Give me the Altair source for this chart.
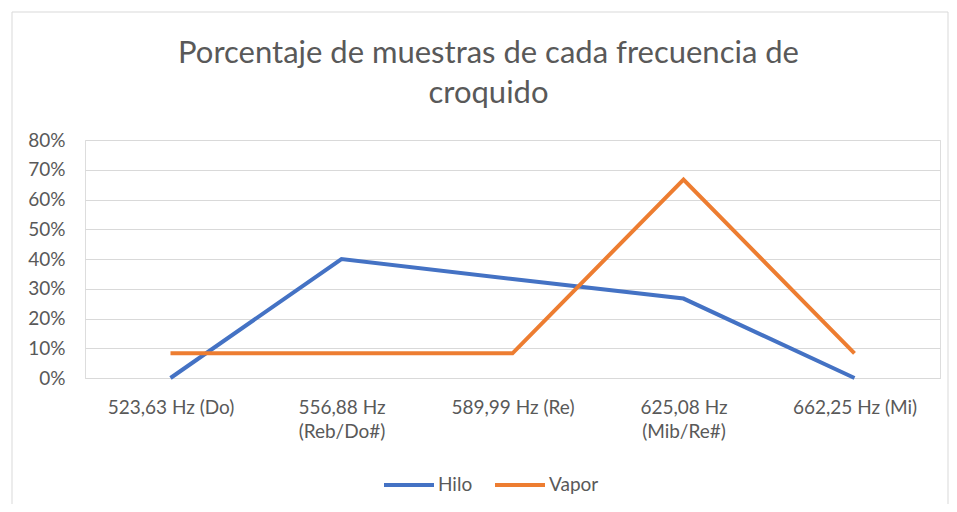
import altair as alt
import pandas as pd

categories = ["523,63 Hz (Do)", "556,88 Hz (Reb/Do#)", "589,99 Hz (Re)", "625,08 Hz (Mib/Re#)", "662,25 Hz (Mi)"]
hilo = [0.0, 0.40, 0.333, 0.267, 0.0]
vapor = [0.083, 0.083, 0.083, 0.667, 0.083]
series = ["Hilo", "Vapor"]
colors = ["#4472C4", "#ED7D31"]
y_ticks = [0, 0.1, 0.2, 0.3, 0.4, 0.5, 0.6, 0.7, 0.8]

rows = []
for c, h, v in zip(categories, hilo, vapor):
    rows.append({"freq": c, "serie": "Hilo", "pct": h})
    rows.append({"freq": c, "serie": "Vapor", "pct": v})
df = pd.DataFrame(rows)

FONT = "Lato"
GREY = "#595959"

lines = alt.Chart(df).mark_line(strokeWidth=4, strokeCap="butt", strokeJoin="miter").encode(
    x=alt.X("freq:N", sort=categories, title=None,
            scale=alt.Scale(type="point", padding=0.5),
            axis=alt.Axis(labelAngle=0, labelFont=FONT, labelFontSize=19, labelColor=GREY,
                          labelPadding=20, ticks=False, domainColor="#D9D9D9", domainWidth=1,
                          labelLineHeight=24,
                          labelExpr="length(datum.label) > 15 ? [slice(datum.label, 0, 9), slice(datum.label, 10)] : datum.label")),
    y=alt.Y("pct:Q", title=None,
            scale=alt.Scale(domain=[0, 0.8], nice=False),
            axis=alt.Axis(values=y_ticks, format=".0%", labelFont=FONT, labelFontSize=19,
                          labelColor=GREY, labelPadding=20, ticks=False, domain=False,
                          gridColor="#D9D9D9", gridWidth=1)),
    color=alt.Color("serie:N", scale=alt.Scale(domain=series, range=colors), title=None,
                    legend=alt.Legend(orient="none", legendX=297, legendY=318, direction="horizontal",
                                      symbolType="stroke", symbolSize=2500, symbolStrokeWidth=4,
                                      labelFont=FONT, labelFontSize=19, labelColor=GREY,
                                      labelOffset=2, columnPadding=14)),
)

border = alt.Chart(pd.DataFrame({"a": [0]})).mark_rect(fill=None, stroke="#D9D9D9", strokeWidth=1).encode(
    x=alt.value(-73), x2=alt.value(863), y=alt.value(-128), y2=alt.value(365)
)

chart = alt.layer(border, lines).properties(
    width=855, height=238,
    padding={"left": 77, "top": 132, "right": 9, "bottom": 126},
    autosize=alt.AutoSizeParams(type="none"),
    title=alt.Title(["Porcentaje de muestras de cada frecuencia de", "croquido"],
                    font=FONT, fontSize=31, fontWeight="normal", color=GREY,
                    anchor="middle", offset=-98, lineHeight=40, dx=-24),
).configure_view(stroke=None).configure(background="white")

chart.save("out.html", embed_options={"renderer": "svg", "actions": False})
